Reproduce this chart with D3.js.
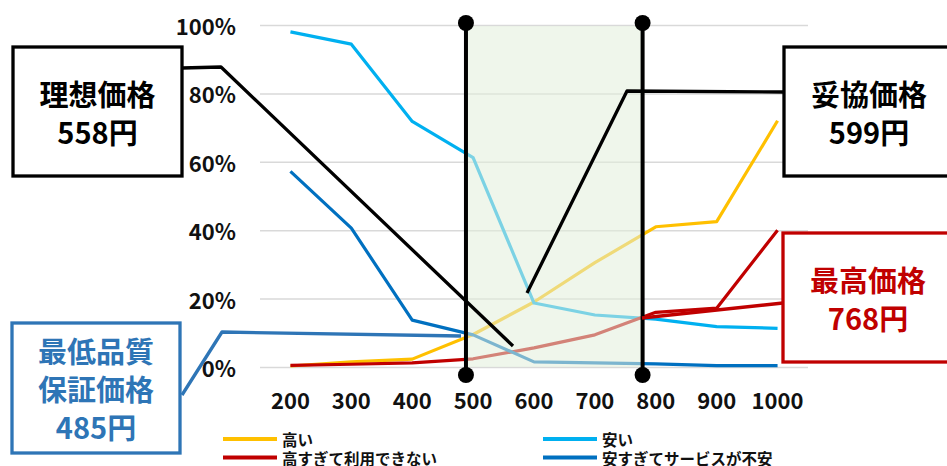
<!DOCTYPE html>
<html>
<head>
<meta charset="utf-8">
<script src="https://cdn.jsdelivr.net/npm/d3@7"></script>
<style>
  body { margin: 0; background: #fff; }
  svg { display: block; }
  text { font-family: "Noto Sans CJK JP", "Noto Sans", sans-serif; }
</style>
</head>
<body>
<svg id="chart" width="947" height="466"></svg>
<script>
// Price points surveyed (yen)
const prices = ["200", "300", "400", "500", "600", "700", "800", "900", "1000"];

// Share of respondents (%) for each question
const expensive      = [0.3, 1.5, 2.3, 9.5, 19.0, 30.5, 41.0, 42.5, 72.0];   // 高い
const cheap          = [98.0, 94.4, 71.8, 61.2, 18.7, 15.2, 14.0, 11.8, 11.3]; // 安い
const tooExpensive   = [0.5, 0.8, 1.2, 2.4, 5.6, 9.4, 16.0, 17.2, 40.0];   // 高すぎて利用できない
const tooCheap       = [57.2, 40.6, 13.7, 9.4, 1.5, 1.2, 0.9, 0.4, 0.4];   // 安すぎてサービスが不安

const yTicks = [0, 20, 40, 60, 80, 100];

// Key prices
const lowestQualityPrice = 485;   // 最低品質保証価格
const idealPrice         = 558;   // 理想価格
const compromisePrice    = 599;   // 妥協価格
const highestPrice       = 768;   // 最高価格

// Secondary (continuous) price axis used for the range markers
const markerAxisDomain = [155, 1033];

const series = [
  { name: "高い",                 values: expensive,    color: "#FFC000" },
  { name: "安い",                 values: cheap,        color: "#00B0F0" },
  { name: "高すぎて利用できない", values: tooExpensive, color: "#C00000" },
  { name: "安すぎてサービスが不安", values: tooCheap,     color: "#0070C0" }
];

const svg = d3.select("#chart");
const plot = { left: 260, right: 808, top: 25, bottom: 367 };

const x = d3.scaleBand().domain(prices).range([plot.left, plot.right]).padding(0);
const xc = d => x(d) + x.bandwidth() / 2;
const y = d3.scaleLinear().domain([0, 100]).range([plot.bottom, plot.top]);
const px = d3.scaleLinear().domain(markerAxisDomain).range([plot.left, plot.right]);

// Gridlines
const yAxis = d3.axisLeft(y).tickValues(yTicks)
  .tickSize(-(plot.right - plot.left)).tickFormat("");
const gGrid = svg.append("g").attr("transform", `translate(${plot.left},0)`).call(yAxis);
gGrid.select(".domain").remove();
gGrid.selectAll(".tick line").attr("stroke", "#D9D9D9").attr("stroke-width", 1.5);

// Y tick labels
svg.append("g").selectAll("text").data(yTicks).join("text")
  .attr("x", 236).attr("y", d => y(d))
  .attr("text-anchor", "end").attr("dominant-baseline", "central")
  .attr("font-size", 22).attr("font-weight", 700).attr("fill", "#111")
  .text(d => d + "%");

// X tick labels
svg.append("g").selectAll("text").data(prices).join("text")
  .attr("x", d => xc(d)).attr("y", 399)
  .attr("text-anchor", "middle").attr("dominant-baseline", "central")
  .attr("font-size", 22).attr("font-weight", 700).attr("fill", "#111")
  .text(d => d);

// Series lines
const line = d3.line().x((d, i) => xc(prices[i])).y(d => y(d));
svg.append("g").selectAll("path").data(series).join("path")
  .attr("d", s => line(s.values))
  .attr("fill", "none").attr("stroke", s => s.color)
  .attr("stroke-width", 3.2).attr("stroke-linejoin", "round");

// Acceptable price range band
svg.append("rect")
  .attr("x", px(lowestQualityPrice)).attr("y", plot.top + 1)
  .attr("width", px(highestPrice) - px(lowestQualityPrice))
  .attr("height", plot.bottom - plot.top - 1)
  .attr("fill", "#E2EFDA").attr("fill-opacity", 0.55);

// Range markers with end dots
const markers = [lowestQualityPrice, highestPrice];
const gm = svg.append("g");
gm.selectAll("line").data(markers).join("line")
  .attr("x1", d => px(d)).attr("x2", d => px(d))
  .attr("y1", 23).attr("y2", 375)
  .attr("stroke", "#000").attr("stroke-width", 4);
markers.forEach(m => {
  gm.append("circle").attr("cx", px(m)).attr("cy", 23).attr("r", 8).attr("fill", "#000");
  gm.append("circle").attr("cx", px(m)).attr("cy", 375).attr("r", 8).attr("fill", "#000");
});

// Callouts
const callouts = [
  { lines: ["理想価格", idealPrice + "円"], color: "#000",
    box: [13, 47, 169, 129],
    leader: [[182, 68], [221, 67], [513, 346]] },
  { lines: ["妥協価格", compromisePrice + "円"], color: "#000",
    box: [784, 47, 170, 129],
    leader: [[784, 92], [627, 91], [527, 293]] },
  { lines: ["最高価格", highestPrice + "円"], color: "#C00000",
    box: [783, 233, 170, 129],
    leader: [[783, 303], [642, 318]] },
  { lines: ["最低品質", "保証価格", lowestQualityPrice + "円"], color: "#2E75B6",
    box: [12, 323, 168, 130],
    leader: [[182, 395], [222, 332], [461, 336]] }
];

const gc = svg.append("g");
callouts.forEach(c => {
  gc.append("path")
    .attr("d", d3.line()(c.leader))
    .attr("fill", "none").attr("stroke", c.color)
    .attr("stroke-width", 3.3).attr("stroke-linejoin", "round");
  const [bx, by, bw, bh] = c.box;
  gc.append("rect")
    .attr("x", bx).attr("y", by).attr("width", bw).attr("height", bh)
    .attr("fill", "#fff").attr("stroke", c.color).attr("stroke-width", 3.3);
  const cx = bx + bw / 2, cy = by + bh / 2;
  const step = 38;
  const start = cy - (c.lines.length - 1) * step / 2;
  c.lines.forEach((t, i) => {
    gc.append("text")
      .attr("x", cx).attr("y", start + i * step)
      .attr("text-anchor", "middle").attr("dominant-baseline", "central")
      .attr("font-size", 29).attr("font-weight", 700).attr("fill", c.color)
      .text(t);
  });
});

// Legend
const legendPos = [[223, 439], [543, 439], [223, 457.5], [543, 457.5]];
const gl = svg.append("g");
series.forEach((s, i) => {
  const [lx, ly] = legendPos[i];
  gl.append("line").attr("x1", lx).attr("x2", lx + 54).attr("y1", ly).attr("y2", ly)
    .attr("stroke", s.color).attr("stroke-width", 4);
  gl.append("text").attr("x", lx + 59).attr("y", ly)
    .attr("dominant-baseline", "central")
    .attr("font-size", 15.5).attr("font-weight", 700).attr("fill", "#111")
    .text(s.name);
});
</script>
</body>
</html>
